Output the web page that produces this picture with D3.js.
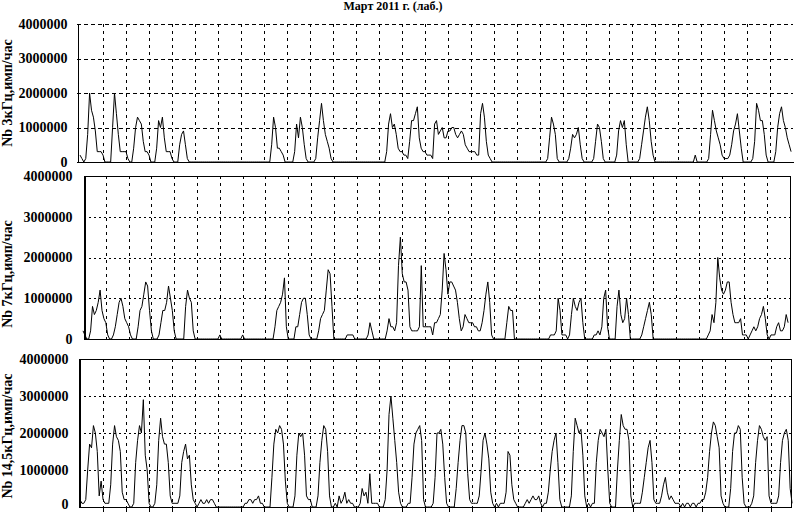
<!DOCTYPE html>
<html><head><meta charset="utf-8">
<script src="https://cdnjs.cloudflare.com/ajax/libs/d3/7.8.5/d3.min.js"></script>
<style>
body{margin:0;background:#fff}
svg{display:block}
text{font-family:"Liberation Serif","Times New Roman",serif;font-weight:bold;fill:#000}
</style>
</head><body><div id="chart"></div>
<script>
// ---------- DATA ----------
const chartTitle = "Март 2011 г. (лаб.)";
const seriesLabels = ["Nb 3кГц,имп/час", "Nb 7кГц,имп/час", "Nb 14,5кГц,имп/час"];
const yTickValues = [0, 1000000, 2000000, 3000000, 4000000];
const dayCount = 31;          // March 2011
const stepHours = 2;          // one value every 2 hours
const unit = 100000;          // values below are in units of 100 000 imp/h

const nb3 = [
 2,1,0,1,8,20,15,13,9,3,3,3,
 2,0,0,0,0,10,20,14,8,3,3,3,
 3,1,0,0,4,10,13,12,11,6,3,3,
 2,0,0,0,4,12,10,13,7,3,3,3,
 1,0,0,0,5,8,9,5,1,0,0,0,
 0,0,0,0,0,0,0,0,0,0,0,0,
 0,0,0,0,0,0,0,0,0,0,0,0,
 0,0,0,0,0,0,0,0,0,0,0,0,
 0,0,0,0,5,13,10,4,4,3,2,0,
 0,0,0,0,3,11,7,13,10,5,1,0,
 0,0,0,1,7,12,17,12,8,6,4,1,
 0,0,0,0,0,0,0,0,0,0,0,0,
 0,0,0,0,0,0,0,0,0,0,0,0,
 0,0,0,0,3,11,14,10,11,8,4,3,
 3,2,2,1,6,12,12,14,16,7,4,3,
 3,2,2,2,1,11,12,8,9,10,7,7,
 9,9,10,10,8,7,8,9,8,5,4,3,
 3,3,3,2,2,14,17,13,6,2,1,0,
 0,0,0,0,0,0,0,0,0,0,0,0,
 0,0,0,0,0,0,0,0,0,0,0,0,
 0,0,0,0,1,7,13,11,8,1,0,0,
 0,0,0,1,4,8,7,8,10,5,1,0,
 0,0,0,0,1,6,11,10,6,1,0,0,
 0,0,0,0,2,9,12,10,12,5,0,0,
 0,0,0,0,1,5,9,13,16,12,6,2,
 0,0,0,0,0,0,0,0,0,0,0,0,
 0,0,0,0,0,0,0,0,0,2,0,0,
 0,0,0,0,1,8,15,12,9,7,5,2,
 1,1,1,2,5,9,11,14,9,4,0,0,
 0,0,0,1,6,17,15,12,12,8,2,0,
 0,0,0,3,10,14,16,12,10,7,5,3
];

const nb7 = [
 2,1,0,0,2,8,6,7,9,12,7,5,
 4,1,0,0,1,3,6,9,10,8,5,4,
 3,1,0,0,0,3,7,8,11,14,13,7,
 2,0,0,0,1,4,7,7,9,13,10,7,
 2,0,0,0,0,0,8,12,10,9,2,0,
 0,0,0,0,0,0,0,0,0,0,0,0,
 1,0,0,0,0,0,0,0,0,0,0,0,
 1,0,0,0,0,0,0,0,0,0,0,0,
 0,0,0,0,0,3,7,8,9,11,15,3,
 0,0,0,0,3,3,6,9,10,10,6,1,
 0,0,0,0,2,5,6,7,12,17,16,8,
 0,0,0,0,0,0,0,1,1,1,1,0,
 0,0,0,0,0,0,1,4,2,0,0,0,
 0,0,0,0,2,5,3,3,2,4,18,25,
 16,14,14,12,3,2,2,2,2,3,18,3,
 3,3,3,3,1,4,4,5,6,12,21,17,
 11,14,14,13,12,9,5,2,3,6,5,4,
 4,4,3,3,2,2,4,7,11,14,9,1,
 0,0,0,0,0,0,0,4,8,7,7,0,
 0,0,0,0,0,0,0,0,0,0,0,0,
 0,0,0,0,0,0,1,1,1,2,10,7,
 1,1,1,0,1,6,10,8,7,9,10,4,
 0,0,0,0,0,1,1,2,1,3,10,12,
 3,0,0,0,0,8,12,6,4,5,10,6,
 0,0,0,0,0,0,1,3,5,7,9,6,
 0,0,0,0,0,0,0,0,0,0,0,0,
 0,0,0,0,0,0,0,0,0,0,0,0,
 0,0,0,0,0,1,2,6,4,9,20,15,
 12,11,12,14,14,9,6,4,4,4,5,1,
 1,1,0,1,2,3,2,3,5,6,8,5,
 1,0,1,1,1,3,4,2,2,3,6,4
];

const nb14 = [
 2,1,1,2,10,17,16,22,20,15,3,7,
 2,1,1,1,6,17,22,19,18,15,4,2,
 2,1,0,0,1,12,18,22,20,29,14,10,
 1,0,0,1,6,18,24,19,17,17,12,3,
 1,1,1,1,3,12,15,17,13,14,6,2,
 1,0,1,2,1,1,2,1,2,2,1,0,
 0,0,0,0,0,0,0,0,0,0,0,0,
 0,0,1,1,2,2,1,2,2,3,1,1,
 0,0,0,0,8,17,21,20,22,21,17,7,
 1,0,0,0,3,14,20,19,20,14,3,2,
 2,0,0,0,3,12,18,22,21,15,3,0,
 0,1,0,3,1,2,4,1,2,1,1,0,
 0,0,1,5,3,4,1,9,1,1,1,1,
 0,0,0,2,10,25,30,24,18,12,4,1,
 0,0,0,1,1,8,17,20,21,22,18,2,
 0,0,0,0,1,8,20,20,21,17,8,1,
 0,0,0,0,5,12,18,22,22,20,9,2,
 1,1,1,1,3,10,18,20,17,13,4,1,
 0,1,0,1,1,1,4,15,14,6,2,1,
 0,0,0,0,1,2,1,2,3,2,2,3,
 1,0,1,1,4,10,15,18,20,12,2,0,
 0,0,0,0,3,15,24,22,20,21,14,3,
 0,1,0,1,1,12,18,21,20,19,21,10,
 1,0,0,0,10,18,25,22,21,21,18,3,
 0,1,1,1,1,4,8,12,16,18,12,2,
 1,1,1,3,6,8,4,2,3,2,1,1,
 1,0,1,0,1,1,0,1,1,0,1,1,
 2,2,4,8,15,20,23,22,19,16,3,1,
 0,0,0,5,15,20,20,22,21,8,1,0,
 0,0,1,3,12,18,22,21,19,18,19,3,
 1,1,1,1,3,12,18,20,21,18,5,1
];

// ---------- LAYOUT ----------
const W = 795, H = 512;
const layout = [
  {series: nb3,  x0: 80, x1: 793, axisX: 77, right: 793, yTop: 24,  yBot: 162, labX: 67, titleY: 93,  frame: false, ticks: false, hDash: "4,3", zeroShift: 0},
  {series: nb7,  x0: 83, x1: 790, axisX: 84, right: 790, yTop: 176, yBot: 339, labX: 72, titleY: 274, frame: true,  ticks: false, hDash: "2,3", zeroShift: 0},
  {series: nb14, x0: 80, x1: 794, axisX: 79, right: 791, yTop: 359, yBot: 507, labX: 68, titleY: 436, frame: true,  ticks: true,  hDash: "2,3", zeroShift: -3}
];

const svg = d3.select("#chart").append("svg").attr("width", W).attr("height", H);

svg.append("text").attr("x", 393).attr("y", 10).attr("text-anchor", "middle")
  .style("font-size", "12px").text(chartTitle);

const dayTicks = d3.range(1, dayCount).map(d => d * 24);

layout.forEach((p, k) => {
  const x = d3.scaleLinear().domain([0, dayCount * 24]).range([p.x0, p.x1]);
  const y = d3.scaleLinear().domain([0, 4000000]).range([p.yBot, p.yTop]);
  const g = svg.append("g");

  // horizontal dashed grid
  const hVals = yTickValues.filter(v => v > 0 && (p.frame ? v < 4000000 : true));
  g.append("g").attr("shape-rendering", "crispEdges").selectAll("line").data(hVals).join("line")
    .attr("x1", p.axisX).attr("x2", p.right)
    .attr("y1", d => Math.round(y(d)) + 0.5).attr("y2", d => Math.round(y(d)) + 0.5)
    .attr("stroke", "#000").attr("stroke-width", 1).attr("stroke-dasharray", p.hDash);

  // vertical dotted day grid
  g.append("g").attr("shape-rendering", "crispEdges").selectAll("line").data(dayTicks.filter(d => x(d) < p.right - 2)).join("line")
    .attr("x1", d => Math.round(x(d)) + 0.5).attr("x2", d => Math.round(x(d)) + 0.5)
    .attr("y1", p.yTop).attr("y2", p.yBot)
    .attr("stroke", "#000").attr("stroke-width", 1).attr("stroke-dasharray", "3,4");

  // frame
  if (p.frame) {
    g.append("rect").attr("shape-rendering", "crispEdges")
      .attr("x", p.axisX + 0.5).attr("y", p.yTop + 0.5)
      .attr("width", p.right - p.axisX).attr("height", p.yBot - p.yTop)
      .attr("fill", "none").attr("stroke", "#000").attr("stroke-width", 1);
  }

  // bottom axis
  const bottom = d3.axisBottom(x).tickValues(p.ticks ? dayTicks.filter(d => x(d) < p.right - 2) : []).tickSize(p.ticks ? 6 : 0).tickSizeOuter(0).tickFormat("");
  const bg = g.append("g").attr("transform", `translate(0,${p.yBot + 0.5})`).attr("shape-rendering", "crispEdges").call(bottom);
  bg.select(".domain").attr("d", `M${p.axisX},0H${p.right + 1}`).attr("stroke-width", 1.5);
  bg.selectAll(".tick line").attr("stroke-width", 1);

  // left axis with labels
  const left = d3.axisLeft(y).tickValues(yTickValues).tickSize(0).tickSizeOuter(0)
    .tickPadding(p.axisX - p.labX).tickFormat(d3.format("d"));
  const lg = g.append("g").attr("transform", `translate(${p.axisX + 0.5},0)`).attr("shape-rendering", "crispEdges").call(left);
  lg.select(".domain").attr("stroke-width", 1);
  lg.selectAll("text").style("font-size", "14px").style("font-family", "'Liberation Serif',serif").style("font-weight", "bold");
  lg.selectAll(".tick").filter(d => d === 0).select("text").attr("y", p.zeroShift);

  // axis title
  svg.append("text").attr("transform", `translate(12,${p.titleY}) rotate(-90)`)
    .attr("text-anchor", "middle").style("font-size", "14px").text(seriesLabels[k]);

  // data line
  const line = d3.line().x((d, i) => x(i * stepHours)).y(d => y(d * unit));
  g.append("path").datum(p.series).attr("d", line)
    .attr("fill", "none").attr("stroke", "#000").attr("stroke-width", 1);
});
</script>
</body></html>
